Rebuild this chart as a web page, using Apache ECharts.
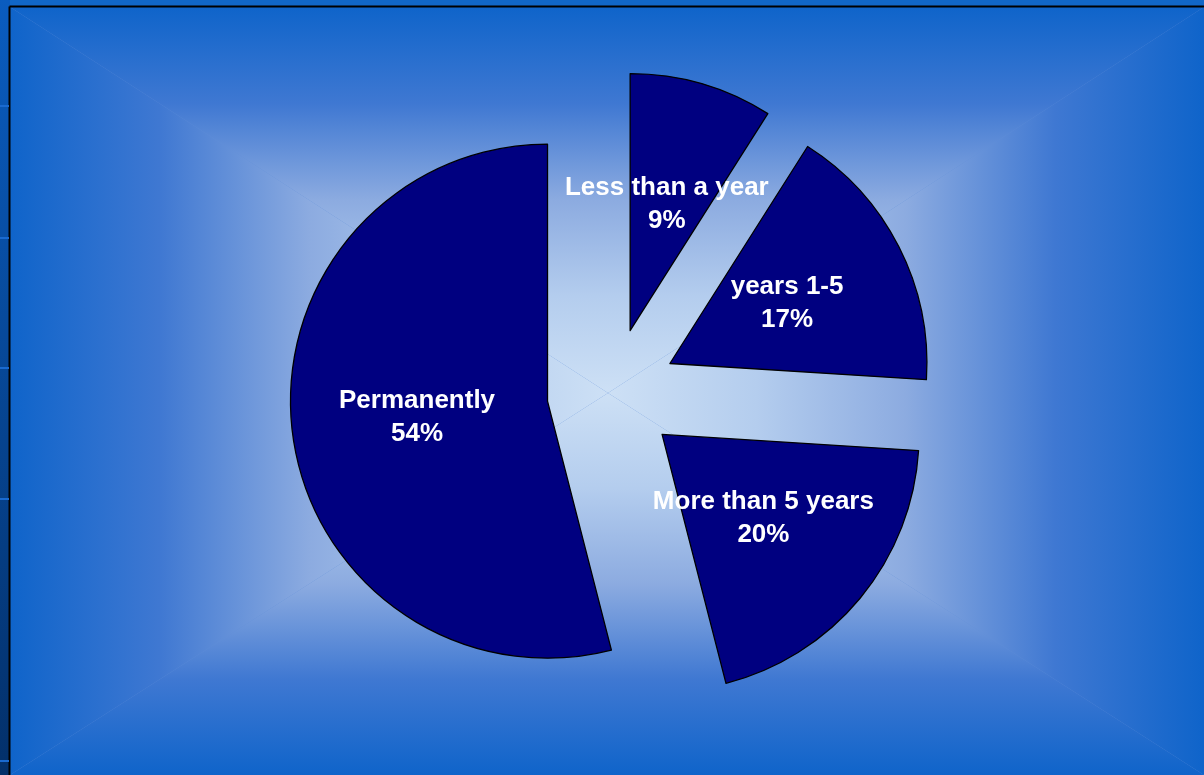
<!DOCTYPE html>
<html>
<head>
<meta charset="utf-8">
<title>How long</title>
<script src="https://cdn.jsdelivr.net/npm/echarts@6/dist/echarts.min.js"></script>
<style>
  html, body { margin: 0; padding: 0; background: #0f62c4; }
  #chart { width: 1204px; height: 775px; }
</style>
</head>
<body>
<div id="chart"></div>
<script>
// Pie data: share of answers per duration
const categories = ['Less than a year', 'years 1-5', 'More than 5 years', 'Permanently'];
const shares = [9, 17, 20, 54];

const W = 1204, H = 775;
const frameLeft = 10, frameTop = 7;
const cx = 608, cy = 393;

// Rectangular backdrop gradient: light centre fading to deep blue at every edge
const stops = [
  { offset: 0, color: '#0f64ca' },
  { offset: 0.25, color: '#3f78d2' },
  { offset: 0.5, color: '#8cabe0' },
  { offset: 0.75, color: '#b4cdee' },
  { offset: 1, color: '#cde0f5' }
];
const reversed = stops.map(s => ({ offset: 1 - s.offset, color: s.color })).reverse();
function grad(x, y, x2, y2, cs) {
  return { type: 'linear', x: x, y: y, x2: x2, y2: y2, colorStops: cs, global: false };
}

const graphics = [
  // top band and left strip of the slide
  { type: 'rect', shape: { x: 0, y: 0, width: W, height: frameTop }, style: { fill: '#1167c8' }, silent: true, z: -10 },
  { type: 'rect', shape: { x: 0, y: 0, width: frameLeft, height: H },
    style: { fill: grad(0, 0, 0, 1, [{ offset: 0, color: '#0a5cbf' }, { offset: 1, color: '#03306a' }]) }, silent: true, z: -10 },
  // base under the gradient so the seams between triangles read as faint diagonals
  { type: 'rect', shape: { x: frameLeft, y: frameTop, width: W - frameLeft, height: H - frameTop },
    style: { fill: '#5f8ed8' }, silent: true, z: -10 },
  // four triangles of the rectangular gradient
  { type: 'polygon', shape: { points: [[frameLeft, frameTop], [W, frameTop], [cx, cy]] },
    style: { fill: grad(0, 0, 0, 1, stops) }, silent: true, z: -9 },
  { type: 'polygon', shape: { points: [[frameLeft, H], [W, H], [cx, cy]] },
    style: { fill: grad(0, 0, 0, 1, reversed) }, silent: true, z: -9 },
  { type: 'polygon', shape: { points: [[frameLeft, frameTop], [frameLeft, H], [cx, cy]] },
    style: { fill: grad(0, 0, 1, 0, stops) }, silent: true, z: -9 },
  { type: 'polygon', shape: { points: [[W, frameTop], [W, H], [cx, cy]] },
    style: { fill: grad(0, 0, 1, 0, reversed) }, silent: true, z: -9 },
  // frame lines
  { type: 'line', shape: { x1: frameLeft - 0.5, y1: frameTop - 0.5, x2: W, y2: frameTop - 0.5 },
    style: { stroke: '#000', lineWidth: 2 }, silent: true, z: -8 },
  { type: 'line', shape: { x1: frameLeft - 0.5, y1: frameTop - 0.5, x2: frameLeft - 0.5, y2: H },
    style: { stroke: '#000', lineWidth: 2 }, silent: true, z: -8 }
];
// small marks on the left strip
[105, 237, 367, 498, 760].forEach(y => {
  graphics.push({ type: 'rect', shape: { x: 0, y: y, width: frameLeft - 1, height: 2 },
    style: { fill: '#1a6ad0' }, silent: true, z: -8 });
});

const sliceStyle = { color: '#000080', borderColor: '#000000', borderWidth: 1.3 };

const chart = echarts.init(document.getElementById('chart'), null, { renderer: 'canvas' });
chart.setOption({
  animation: false,
  backgroundColor: 'transparent',
  graphic: { elements: graphics },
  series: [{
    type: 'pie',
    center: [cx + 4, cy],
    radius: [0, 257],
    startAngle: 90,
    clockwise: true,
    selectedMode: 'multiple',
    selectedOffset: 65,
    avoidLabelOverlap: false,
    itemStyle: sliceStyle,
    label: {
      show: true,
      position: 'inside',
      formatter: '{b}\n{d}%',
      color: '#ffffff',
      fontFamily: "'Liberation Sans', Arial, sans-serif",
      fontWeight: 'bold',
      fontSize: 26,
      lineHeight: 33
    },
    labelLine: { show: false },
    emphasis: { disabled: true },
    select: { itemStyle: sliceStyle },
    data: categories.map((name, i) => ({ name: name, value: shares[i], selected: true }))
  }]
});
</script>
</body>
</html>
